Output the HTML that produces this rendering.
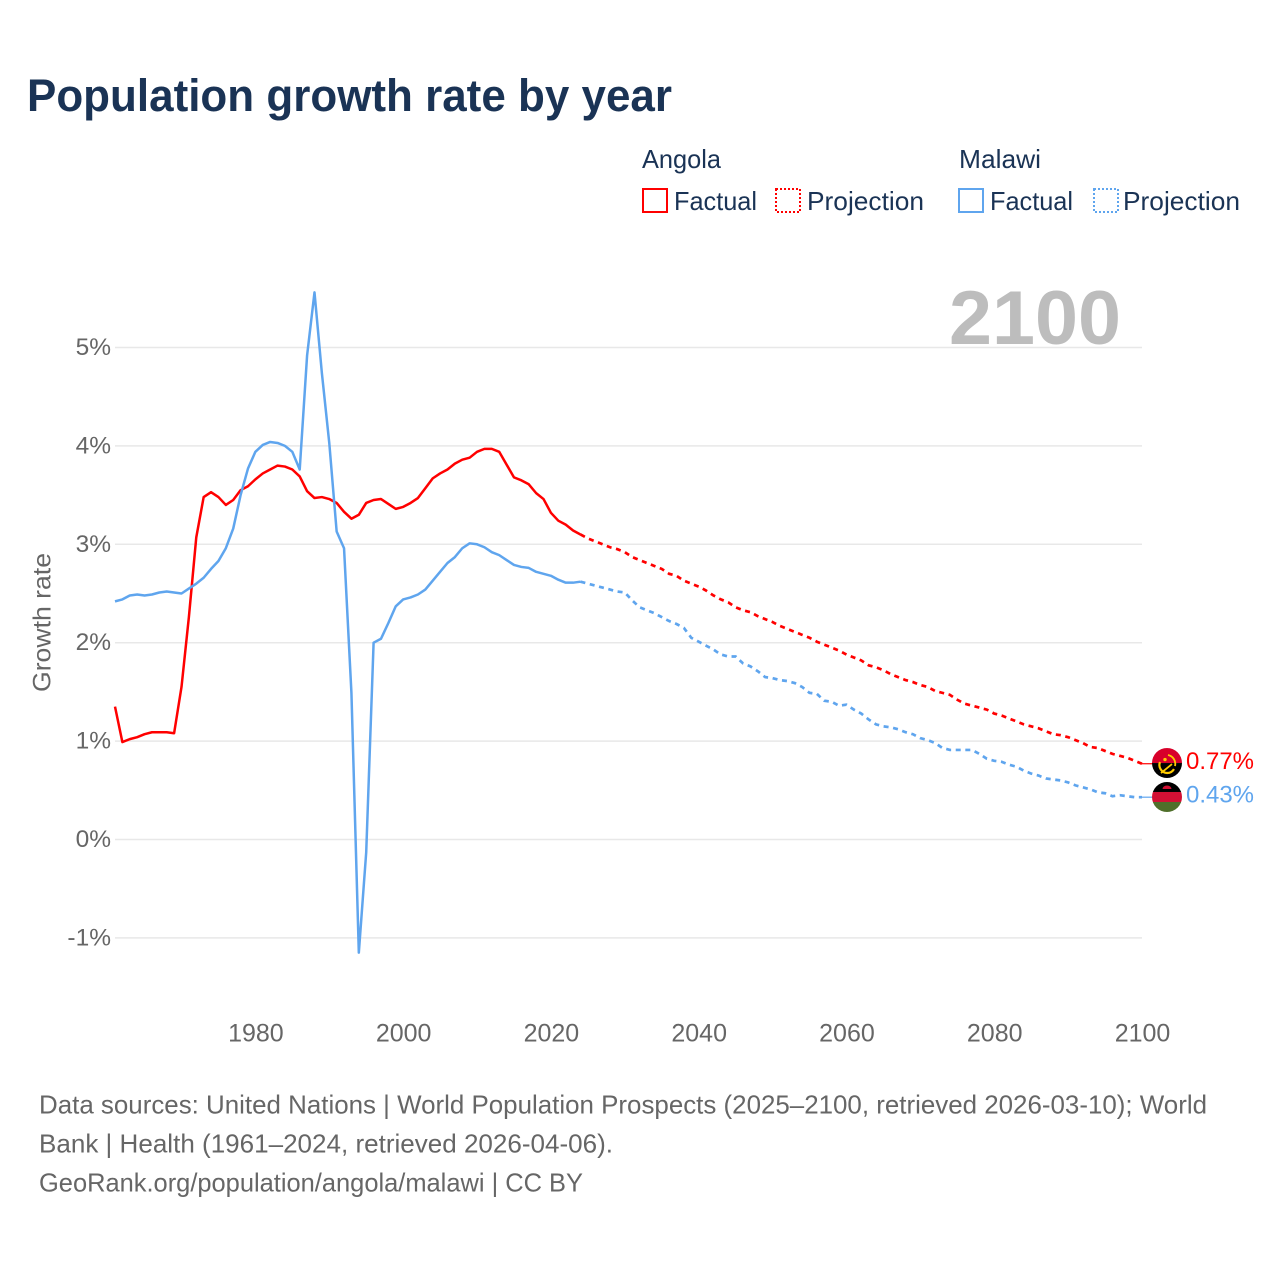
<!DOCTYPE html>
<html lang="en">
<head>
<meta charset="utf-8">
<title>Population growth rate by year</title>
<style>
html,body{margin:0;padding:0;background:#fff;width:1280px;height:1280px;overflow:hidden}
svg{display:block}
text{font-family:"Liberation Sans",sans-serif}
</style>
</head>
<body>
<svg id="chart" xmlns="http://www.w3.org/2000/svg" width="1280" height="1280" viewBox="0 0 1280 1280">
  <defs>
    <clipPath id="clip-angola"><circle id="clip-angola-circle" cx="1167" cy="763" r="15"/></clipPath>
    <clipPath id="clip-malawi"><circle id="clip-malawi-circle" cx="1167" cy="797" r="15"/></clipPath>
  </defs>
  <rect width="1280" height="1280" fill="#fff"/>
  <text x="27" y="111" font-size="45" font-weight="700" fill="#1a3355" textLength="645" lengthAdjust="spacingAndGlyphs">Population growth rate by year</text>

  <g font-size="26" fill="#1a3355">
    <text x="642" y="168" textLength="79" lengthAdjust="spacingAndGlyphs">Angola</text>
    <text x="959" y="168" textLength="82" lengthAdjust="spacingAndGlyphs">Malawi</text>
    <rect x="643" y="189" width="24" height="23" fill="none" stroke="#ff0000" stroke-width="2"/>
    <text x="674" y="210" textLength="83" lengthAdjust="spacingAndGlyphs">Factual</text>
    <rect x="776" y="189" width="24" height="23" fill="none" stroke="#ff0000" stroke-width="2" stroke-dasharray="2 2"/>
    <text x="807" y="210" textLength="117" lengthAdjust="spacingAndGlyphs">Projection</text>
    <rect x="959" y="189" width="24" height="23" fill="none" stroke="#5fa5ee" stroke-width="2"/>
    <text x="990" y="210" textLength="83" lengthAdjust="spacingAndGlyphs">Factual</text>
    <rect x="1094" y="189" width="24" height="23" fill="none" stroke="#5fa5ee" stroke-width="2" stroke-dasharray="2 2"/>
    <text x="1123" y="210" textLength="117" lengthAdjust="spacingAndGlyphs">Projection</text>
  </g>

  <g id="grid"></g>
  <text x="949" y="344" font-size="76" font-weight="700" fill="#bdbdbd" textLength="172" lengthAdjust="spacingAndGlyphs">2100</text>
  <g id="y-labels"></g>
  <g id="x-labels"></g>
  <text transform="translate(50.500 622.500) rotate(-90)" text-anchor="middle" font-size="25" fill="#666666" textLength="139" lengthAdjust="spacingAndGlyphs">Growth rate</text>
  <g id="series"></g>

  <g id="flag-angola" clip-path="url(#clip-angola)">
    <rect id="ao-top" x="1152" y="748" width="30" height="15" fill="#d8002a"/>
    <rect id="ao-bottom" x="1152" y="763" width="30" height="15.500" fill="#000"/>
    <path id="ao-gear" d="M1160 762a8 8 0 0 0 7 11a8 8 0 0 0 7-4" fill="none" stroke="#ffcb00" stroke-width="2.200"/>
    <path id="ao-blade" d="M1168 755a9 9 0 0 1 7 11" fill="none" stroke="#ffcb00" stroke-width="1.800"/>
    <path id="ao-tool" d="M1161 773l11-9" fill="none" stroke="#ffcb00" stroke-width="1.800"/>
    <circle id="ao-star" cx="1165" cy="759.500" r="1.700" fill="#ffcb00"/>
  </g>
  <g id="flag-malawi" clip-path="url(#clip-malawi)">
    <rect id="mw-top" x="1152" y="782" width="30" height="10" fill="#000"/>
    <rect id="mw-mid" x="1152" y="792" width="30" height="10" fill="#d21034"/>
    <rect id="mw-bottom" x="1152" y="802" width="30" height="10" fill="#4f6f2a"/>
    <path id="mw-sun" d="M1162.500 789a4.500 3.500 0 0 1 9 0z" fill="#d21034"/>
  </g>
  <g id="end-labels"></g>

  <g font-size="26" fill="#666666">
    <text x="39" y="1113.500" textLength="1168" lengthAdjust="spacingAndGlyphs">Data sources: United Nations | World Population Prospects (2025–2100, retrieved 2026-03-10); World</text>
    <text x="39" y="1152.500" textLength="574" lengthAdjust="spacingAndGlyphs">Bank | Health (1961–2024, retrieved 2026-04-06).</text>
    <text x="39" y="1191.500" textLength="544" lengthAdjust="spacingAndGlyphs">GeoRank.org/population/angola/malawi | CC BY</text>
  </g>
</svg>
<script>
const firstYear = 1961;
const projectionStartYear = 2024;
const xTicks = [1980, 2000, 2020, 2040, 2060, 2080, 2100];
const yTicks = [-1, 0, 1, 2, 3, 4, 5];

const angolaFactual = [1.35,0.99,1.02,1.04,1.07,1.09,1.09,1.09,1.08,1.55,2.26,3.07,3.48,3.53,3.48,3.40,3.45,3.55,3.59,3.66,3.72,3.76,3.80,3.79,3.76,3.69,3.54,3.47,3.48,3.46,3.42,3.33,3.26,3.30,3.42,3.45,3.46,3.41,3.36,3.38,3.42,3.47,3.57,3.67,3.72,3.76,3.82,3.86,3.88,3.94,3.97,3.97,3.94,3.81,3.68,3.65,3.61,3.52,3.46,3.32,3.24,3.20,3.14,3.10];
const angolaProjection = [3.10,3.06,3.03,3.00,2.97,2.95,2.92,2.87,2.84,2.81,2.78,2.75,2.70,2.68,2.63,2.60,2.57,2.53,2.48,2.44,2.41,2.36,2.33,2.31,2.27,2.24,2.21,2.17,2.14,2.11,2.08,2.05,2.01,1.98,1.95,1.92,1.88,1.85,1.82,1.77,1.75,1.72,1.68,1.65,1.62,1.60,1.57,1.55,1.51,1.49,1.47,1.42,1.38,1.36,1.34,1.32,1.28,1.26,1.23,1.20,1.17,1.15,1.13,1.10,1.07,1.06,1.04,1.01,0.98,0.94,0.93,0.90,0.87,0.85,0.83,0.80,0.77];
const malawiFactual = [2.42,2.44,2.48,2.49,2.48,2.49,2.51,2.52,2.51,2.50,2.55,2.60,2.66,2.75,2.83,2.96,3.16,3.50,3.77,3.94,4.01,4.04,4.03,4.00,3.94,3.76,4.92,5.56,4.74,4.03,3.13,2.96,1.49,-1.15,-0.13,2.00,2.04,2.20,2.37,2.44,2.46,2.49,2.54,2.63,2.72,2.81,2.87,2.96,3.01,3.00,2.97,2.92,2.89,2.84,2.79,2.77,2.76,2.72,2.70,2.68,2.64,2.61,2.61,2.62];
const malawiProjection = [2.62,2.60,2.58,2.56,2.54,2.52,2.51,2.43,2.36,2.33,2.30,2.26,2.22,2.19,2.15,2.05,2.01,1.97,1.93,1.88,1.86,1.86,1.79,1.76,1.71,1.65,1.64,1.62,1.61,1.59,1.55,1.49,1.48,1.41,1.40,1.36,1.37,1.32,1.28,1.22,1.17,1.15,1.14,1.12,1.09,1.07,1.03,1.01,0.98,0.93,0.91,0.91,0.91,0.91,0.87,0.82,0.80,0.79,0.76,0.74,0.70,0.67,0.65,0.62,0.61,0.60,0.58,0.55,0.53,0.51,0.48,0.47,0.44,0.45,0.44,0.43,0.43];

const NS = 'http://www.w3.org/2000/svg';
const RED = '#ff0000';
const BLUE = '#5fa5ee';
const xScale = function (year) { return 115 + (year - 1961) * (1142 - 115) / (2100 - 1961); };
const yScale = function (v) { return 839.5 - v * 98.4; };

function make(tag, attrs, parent) {
  const el = document.createElementNS(NS, tag);
  Object.keys(attrs).forEach(function (k) { el.setAttribute(k, attrs[k]); });
  parent.appendChild(el);
  return el;
}

function linePath(values, startYear) {
  return values.map(function (v, i) {
    return (i ? 'L' : 'M') + xScale(startYear + i).toFixed(2) + ' ' + yScale(v).toFixed(2);
  }).join('');
}

const grid = document.getElementById('grid');
const yLabels = document.getElementById('y-labels');
const xLabels = document.getElementById('x-labels');
const series = document.getElementById('series');
const endLabels = document.getElementById('end-labels');

yTicks.forEach(function (t) {
  const line = make('line', {x1: xScale(1961), x2: xScale(2100), y1: yScale(t), y2: yScale(t), stroke: '#e8e8e8', 'stroke-width': 1.5}, grid);
  
  
  const label = make('text', {x: 111, y: yScale(t) + 7.5, 'text-anchor': 'end', 'font-size': 24.5, fill: '#666666'}, yLabels);
  
  
  label.textContent = t + '%';
});

xTicks.forEach(function (t) {
  const label = make('text', {x: xScale(t) + 0.5, y: 1041.5, 'text-anchor': 'middle', 'font-size': 25, fill: '#666666'}, xLabels);
  
  
  label.textContent = t;
});

const angolaFactualLine = make('path', {d: linePath(angolaFactual, firstYear), fill: 'none', stroke: RED, 'stroke-width': 2.5, 'stroke-linejoin': 'round'}, series);



const angolaProjectionLine = make('path', {d: linePath(angolaProjection, projectionStartYear), fill: 'none', stroke: RED, 'stroke-width': 2.7, 'stroke-dasharray': '5 4.6'}, series);



const malawiFactualLine = make('path', {d: linePath(malawiFactual, firstYear), fill: 'none', stroke: BLUE, 'stroke-width': 2.5, 'stroke-linejoin': 'round'}, series);



const malawiProjectionLine = make('path', {d: linePath(malawiProjection, projectionStartYear), fill: 'none', stroke: BLUE, 'stroke-width': 2.7, 'stroke-dasharray': '5 4.6'}, series);



const angolaLast = angolaProjection[angolaProjection.length - 1];
const malawiLast = malawiProjection[malawiProjection.length - 1];

const angolaLeader = make('line', {x1: xScale(2100), x2: 1153, y1: yScale(angolaLast), y2: yScale(angolaLast), stroke: RED, 'stroke-width': 1.2}, series);



const malawiLeader = make('line', {x1: xScale(2100), x2: 1153, y1: yScale(malawiLast), y2: yScale(malawiLast), stroke: BLUE, 'stroke-width': 1.2}, series);



const angolaValue = make('text', {x: 1186, y: yScale(angolaLast) + 5.5, 'font-size': 24.5, fill: RED, textLength: 68, lengthAdjust: 'spacingAndGlyphs'}, endLabels);


angolaValue.textContent = angolaLast.toFixed(2) + '%';

const malawiValue = make('text', {x: 1186, y: yScale(malawiLast) + 5.5, 'font-size': 24.5, fill: BLUE, textLength: 68, lengthAdjust: 'spacingAndGlyphs'}, endLabels);


malawiValue.textContent = malawiLast.toFixed(2) + '%';

const angolaFlagOffset = yScale(angolaLast) - 763.7;
const malawiFlagOffset = yScale(malawiLast) - 797.2;
document.getElementById('clip-angola-circle').setAttribute('cy', 763 + angolaFlagOffset);
document.getElementById('clip-malawi-circle').setAttribute('cy', 797 + malawiFlagOffset);
Array.from(document.getElementById('flag-angola').children).forEach(function (c) {
  c.setAttribute('transform', 'translate(0 ' + angolaFlagOffset + ')');
});
Array.from(document.getElementById('flag-malawi').children).forEach(function (c) {
  c.setAttribute('transform', 'translate(0 ' + malawiFlagOffset + ')');
});
</script>
</body>
</html>
